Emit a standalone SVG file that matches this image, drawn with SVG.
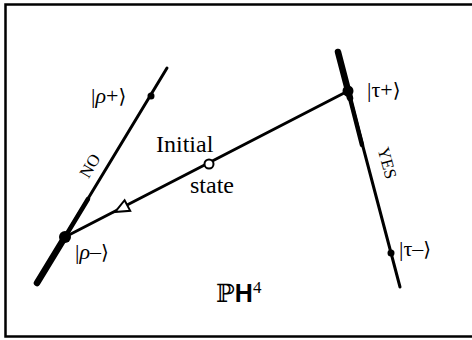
<svg xmlns="http://www.w3.org/2000/svg" width="472" height="340" viewBox="0 0 472 340">
<style>
.ln{stroke:#000;fill:none;stroke-linecap:round}
.lbl{font-family:"Liberation Serif","Times New Roman",serif;fill:#000}
.ket{font-family:"Liberation Serif","DejaVu Serif",serif;font-size:22px;fill:#000}
.br{font-family:"DejaVu Serif",serif;font-size:20px}
</style>
<rect x="0" y="0" width="472" height="340" fill="#fff"/>
<rect x="5.5" y="4.5" width="475" height="332" fill="none" stroke="#000" stroke-width="2.5"/>
<g id="connectors">
<line class="ln" x1="37" y1="283" x2="167" y2="68" stroke-width="3"/>
<line class="ln" x1="37" y1="283" x2="65" y2="237" stroke-width="6.5"/>
<line class="ln" x1="65" y1="237" x2="88" y2="199" stroke-width="4.5"/>
<line class="ln" x1="338" y1="52" x2="400" y2="287" stroke-width="3"/>
<line class="ln" x1="338" y1="52" x2="350" y2="98" stroke-width="6.5"/>
<line class="ln" x1="350" y1="98" x2="362" y2="145" stroke-width="4.5"/>
<line class="ln" x1="65" y1="237" x2="348" y2="91" stroke-width="3"/>
<polygon points="115,212 130.2,210.8 124.6,200.2" fill="#fff" stroke="#000" stroke-width="2" stroke-linejoin="miter"/>
<text class="lbl" font-size="17" transform="translate(90,166) rotate(-59)" text-anchor="middle" dominant-baseline="central">NO</text>
<text class="lbl" font-size="17" transform="translate(387,163) rotate(75)" text-anchor="middle" dominant-baseline="central">YES</text>
</g>
<g id="rho-plus">
<circle cx="151" cy="96" r="3.5" fill="#000"/>
<text class="ket" x="91" y="103">|<tspan font-style="italic">ρ</tspan>+<tspan class="br">⟩</tspan></text>
</g>
<g id="rho-minus">
<circle cx="65" cy="237" r="6" fill="#000"/>
<text class="ket" x="75" y="259">|<tspan font-style="italic">ρ</tspan>–<tspan class="br">⟩</tspan></text>
</g>
<g id="tau-plus">
<circle cx="348" cy="91" r="5.5" fill="#000"/>
<text class="ket" x="367" y="97">|τ+<tspan class="br">⟩</tspan></text>
</g>
<g id="tau-minus">
<circle cx="391" cy="253" r="3.5" fill="#000"/>
<text class="ket" x="399" y="256">|τ–<tspan class="br">⟩</tspan></text>
</g>
<g id="initial-state">
<circle cx="209" cy="164" r="4.5" fill="#fff" stroke="#000" stroke-width="2"/>
<text class="lbl" font-size="24" x="156" y="152">Initial</text>
<text class="lbl" font-size="24" x="190" y="193">state</text>
</g>
<g id="space-label">
<text x="216" y="302" font-size="25" fill="#000"><tspan font-family="DejaVu Serif,serif">ℙ</tspan><tspan font-family="Liberation Sans,Arial,sans-serif" font-weight="bold">H</tspan><tspan font-family="Liberation Serif,serif" font-size="17" dy="-9">4</tspan></text>
</g>
</svg>
